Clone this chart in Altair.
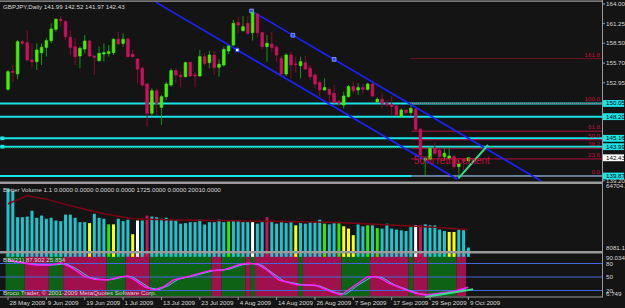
import altair as alt
import pandas as pd

# ---------------- data ----------------
opens = [152.03, 154.55, 154.18, 158.70, 158.58, 156.15, 155.91, 157.17, 157.92, 158.86,
         160.45, 161.85, 161.52, 159.33, 158.02, 156.71, 157.69, 158.81, 156.71, 156.05,
         156.99, 157.08, 157.17, 159.05, 158.48, 159.09, 156.94, 156.29, 154.98, 152.78,
         148.67, 151.84, 149.51, 151.00, 152.64, 154.65, 154.00, 153.81, 155.82, 154.04,
         153.90, 156.61, 155.77, 156.85, 155.12, 155.44, 157.41, 158.25, 161.38, 160.26,
         161.29, 159.98, 162.60, 159.98, 158.02, 158.39, 157.92, 156.38, 154.18, 156.85,
         155.60, 155.35, 155.77, 154.98, 154.04, 152.97, 151.94, 152.03, 151.47, 150.30,
         149.83, 151.00, 152.41, 151.94, 152.31, 152.03, 152.78, 150.26, 150.63, 150.07,
         149.90, 149.69, 148.20, 149.13, 148.76, 149.23, 146.42, 142.12, 142.22, 143.76,
         143.52, 142.59, 142.35, 142.59, 141.19, 142.22, 141.99]
highs = [154.74, 155.44, 158.95, 158.95, 160.35, 158.48, 158.48, 158.48, 159.18, 161.29,
         161.99, 162.32, 161.76, 160.35, 159.18, 158.02, 159.65, 158.95, 156.75, 158.02,
         158.48, 158.25, 159.18, 160.12, 159.89, 159.18, 157.55, 156.38, 155.21, 152.87,
         152.17, 152.17, 151.24, 153.10, 154.98, 154.98, 154.51, 155.91, 155.91, 154.51,
         157.55, 157.17, 157.45, 157.45, 156.24, 158.02, 158.25, 161.76, 162.22, 162.32,
         162.32, 163.16, 162.78, 160.12, 159.65, 160.12, 158.25, 156.71, 157.08, 157.31,
         156.61, 156.61, 156.71, 155.44, 154.28, 153.25, 153.57, 152.31, 152.64, 150.63,
         151.71, 152.64, 153.11, 152.87, 152.87, 152.97, 152.87, 150.91, 151.57, 150.54,
         151.10, 149.83, 149.37, 149.20, 149.83, 149.37, 146.56, 142.59, 143.90, 144.55,
         143.76, 143.76, 143.76, 142.82, 142.12, 142.35, 142.52]
lows = [151.84, 153.10, 153.43, 158.25, 155.91, 155.07, 154.74, 155.44, 156.61, 158.48,
        160.12, 160.82, 158.95, 156.85, 155.44, 154.98, 157.08, 156.61, 154.04, 155.91,
        155.91, 156.61, 156.85, 158.25, 158.02, 156.52, 156.52, 152.87, 152.40, 146.80,
        148.20, 148.43, 147.03, 150.54, 152.40, 152.87, 152.31, 153.71, 153.81, 152.31,
        153.81, 155.30, 154.98, 154.04, 153.81, 155.21, 156.99, 158.11, 159.89, 160.12,
        159.75, 158.86, 159.33, 157.64, 155.91, 157.31, 155.91, 153.90, 153.90, 153.57,
        154.37, 153.57, 154.74, 153.34, 152.17, 151.10, 151.85, 150.16, 150.07, 149.69,
        149.37, 150.91, 151.47, 151.24, 151.47, 151.85, 150.91, 150.07, 149.37, 149.51,
        148.43, 148.29, 148.10, 148.60, 148.43, 146.10, 142.59, 140.02, 142.12, 142.82,
        142.35, 142.12, 142.12, 140.95, 139.87, 140.72, 141.97]
closes = [154.51, 154.40, 158.72, 158.50, 156.15, 155.91, 157.55, 157.92, 158.86, 160.49,
          161.85, 161.66, 159.42, 157.92, 156.61, 157.78, 158.81, 156.71, 156.52, 157.08,
          157.17, 157.31, 159.05, 158.39, 159.05, 156.61, 156.61, 154.88, 152.64, 148.67,
          151.84, 150.07, 151.00, 152.78, 154.65, 154.04, 153.80, 155.77, 153.90, 153.90,
          156.61, 155.68, 156.85, 155.07, 155.54, 157.64, 158.11, 161.29, 161.05, 160.82,
          159.89, 162.78, 159.98, 158.02, 158.48, 157.88, 156.85, 154.18, 156.85, 155.44,
          155.50, 155.91, 154.88, 153.81, 152.78, 151.94, 152.27, 151.33, 150.16, 150.10,
          151.10, 152.41, 151.85, 152.27, 152.03, 152.78, 151.10, 150.63, 150.07, 149.90,
          149.60, 148.43, 149.13, 148.76, 149.37, 146.42, 142.82, 142.35, 143.76, 143.06,
          142.59, 143.06, 142.68, 141.19, 141.56, 141.89, 142.43]

volumes = [62600, 60200, 36200, 36200, 36800, 42200, 35700, 37700, 34800, 35700,
           33200, 32600, 38600, 38600, 35700, 31700, 31700, 30800, 39300, 35700,
           34800, 29700, 29700, 34800, 32600, 33900, 20700, 33200, 33200, 37700,
           36800, 36200, 34800, 35700, 33900, 33200, 30300, 30800, 31700, 31700,
           33900, 29500, 31700, 31700, 33900, 31700, 32600, 33200, 32600, 31700,
           31700, 31700, 30300, 31700, 36200, 31700, 30300, 31700, 30800, 31700,
           28800, 30800, 30300, 31700, 31700, 33900, 30300, 29700, 30800, 30800,
           27900, 25800, 19800, 29700, 27900, 28800, 28800, 26300, 25800, 30300,
           25800, 24900, 24300, 23600, 27200, 28800, 28800, 29700, 28800, 28800,
           24900, 23600, 22700, 22700, 24900, 24300, 8500]
vol_kind = ["c", "c", "c", "c", "c", "c", "c", "c", "c", "c",
            "c", "c", "c", "c", "c", "c", "c", "y", "c", "c",
            "c", "g", "y", "c", "c", "c", "y", "w", "c", "r",
            "c", "c", "c", "c", "c", "c", "c", "c", "c", "c",
            "c", "c", "c", "c", "c", "c", "g", "c", "c", "c",
            "c", "w", "c", "c", "r", "c", "c", "c", "c", "c",
            "y", "c", "c", "c", "c", "c", "g", "c", "c", "g",
            "y", "y", "y", "c", "c", "g", "c", "g", "c", "c",
            "c", "c", "c", "c", "c", "w", "r", "c", "c", "c",
            "c", "c", "y", "y", "c", "c", "c"]
vol_ma_bar = [0, 4, 8, 13, 20, 26, 33, 42, 54, 67, 71, 81, 88, 96]
vol_ma_val = [48500, 55700, 52700, 46700, 39300, 34800, 33900, 33200, 32600, 31700, 30800, 28800, 27200, 24900]

ind_bar = [0, 3.5, 6, 9, 11, 13, 16, 18, 21, 23.5, 25, 26.5, 28.5, 30.5, 32.5, 34.5, 37.5, 42, 45,
           48, 50, 52, 54, 56.5, 60.5, 64, 67.5, 69.5, 72, 75, 77, 79.5, 83, 85, 87, 90, 92.5, 94.5, 96]
ind_main = [87.8, 80.4, 76.7, 76.7, 81.8, 72.9, 50.7, 44.9, 43.3, 50.7, 52.2, 43.3, 28.4, 21.1, 28.4,
            43.3, 50.7, 64.0, 65.6, 76.7, 80.4, 78.9, 65.6, 43.3, 32.2, 32.2, 17.3, 10.0, 28.4, 50.7,
            50.7, 36.0, 21.1, 13.8, 10.0, 13.8, 17.3, 22.7, 27.1]
ind_sig_bar = [0, 4.5, 7, 10, 12, 14, 17, 19.5, 22, 24.5, 26, 27.5, 29.5, 31.5, 33.5, 35.5, 38.5, 43, 46,
               49, 51, 53, 55, 57.5, 61.5, 65, 68.5, 70.5, 73, 76, 78, 80.5, 84, 86, 88, 91, 93.5, 95.5]
ind_sig = [86.0, 80.0, 77.5, 77.0, 80.0, 70.0, 49.0, 44.0, 45.0, 51.0, 50.0, 40.0, 26.0, 22.0, 31.0,
           45.0, 52.0, 64.5, 67.0, 77.5, 80.0, 76.0, 60.0, 41.0, 32.5, 30.0, 15.0, 12.0, 32.0, 51.0,
           49.0, 33.0, 19.0, 12.5, 10.5, 14.5, 18.0, 24.0]
band_start = [0, 4, 9, 12, 21, 25, 30, 43, 45, 50, 51, 52, 61, 62, 70, 76, 84, 85, 88, 94]
band_end = [3, 8, 11, 20, 24, 29, 42, 44, 49, 50, 51, 60, 61, 69, 75, 83, 84, 87, 93, 95]
band_kind = ["g", "r", "g", "r", "g", "r", "g", "r", "g", "r", "g", "r", "g", "r", "g", "r", "g", "r", "g", "r"]
ind_levels = [80, 50, 20]

cyan_levels = [150.05, 148.20, 145.16, 143.99, 139.87]
white_level = [142.43]
price_ticks = ["164.00", "161.25", "158.50", "155.70", "152.95", "139.20"]
fib_names = ["161.8", "100.0", "61.8", "50.0", "38.2", "23.6", "0.0"]
fib_prices = [156.34, 150.05, 146.16, 144.96, 143.76, 142.27, 139.87]
fib_dotted = [True, True, False, False, False, False, False]
fib_from_bar = 84.1

chan_line = ["upper", "upper", "lower", "lower"]
chan_bar = [50.8, 111.2, 30.8, 93.7]
chan_price = [163.02, 139.16, 164.27, 139.42]
chan_mark_bar = [50.8, 59.4, 68.0]
chan_mark_price = [163.02, 159.62, 156.23]
chan_mark2_bar = [47.8]
chan_mark2_price = [157.55]
trend_bar = [93.9, 100.1]
trend_price = [139.55, 144.22]
ind_trend_bar = [87, 97]
ind_trend_val = [5.5, 22.7]

date_bar = [0, 8, 16, 24, 32, 40, 48, 56, 64, 72, 80, 88, 96]
date_lab = ["28 May 2009", "9 Jun 2009", "19 Jun 2009", "1 Jul 2009", "13 Jul 2009", "23 Jul 2009",
            "4 Aug 2009", "14 Aug 2009", "26 Aug 2009", "7 Sep 2009", "17 Sep 2009", "29 Sep 2009",
            "9 Oct 2009"]

vol_ticks = ["64704.15", "8081.15"]
ind_tick_labels = ["80", "50", "20"]

# ---------------- style ----------------
BG = "#141414"
FONT = "Liberation Sans"
FS = 6.2
TXT = "#d8d8d8"
GRAY = "#9a9a9a"
CYAN = "#19e4ea"
UP_BODY = "#44f000"
DN_BODY = "#cc1060"
UP_WICK = "#109a10"
DN_WICK = "#8a0c30"
CRIMSON = "#c0103c"

X = alt.Scale(domain=[0, 96], range=[3, 473.4], zero=False, nice=False)
PY = alt.Scale(domain=[139.3, 164.0], range=[180.1, 4], zero=False, nice=False)
VY = alt.Scale(domain=[8081.15, 64704.15], range=[248, 186], zero=False, nice=False)
IY = alt.Scale(domain=[20, 80], range=[290.5, 263.5], zero=False, nice=False)


def xq(f):
    return alt.X(f, type="quantitative", scale=X, axis=None)


def yq(f, s):
    return alt.Y(f, type="quantitative", scale=s, axis=None)


candles = pd.DataFrame({"i": list(range(len(opens))), "o": opens, "h": highs, "l": lows, "c": closes})
candles["dir"] = ["up" if c >= o else "down" for o, c in zip(opens, closes)]
vol = pd.DataFrame({"i": list(range(len(volumes))), "v": volumes, "k": vol_kind})
vma = pd.DataFrame({"i": vol_ma_bar, "v": vol_ma_val})
ind1 = pd.DataFrame({"i": ind_bar, "v": ind_main})
ind2 = pd.DataFrame({"i": ind_sig_bar, "v": ind_sig})
bands = pd.DataFrame({"s": band_start, "e": band_end, "k": band_kind})
bands["x1"] = bands["s"] - 0.5
bands["x2"] = bands["e"] + 0.5

layers = []

# indicator background bands
band_cols = {"g": "#0d6216", "r": "#a0104c"}
for k, col in band_cols.items():
    layers.append(alt.Chart(bands).transform_filter(alt.datum.k == k).mark_rect(color=col).encode(
        x=xq("x1"), x2="x2", y=alt.value(254), y2=alt.value(296)))

# indicator level lines
layers.append(alt.Chart(pd.DataFrame({"v": ind_levels})).mark_rule(color="#4466dd", strokeWidth=1).encode(
    x=alt.value(0), x2=alt.value(603), y=yq("v", IY)))
layers.append(alt.Chart(ind2).mark_line(color="#3cc8e0", strokeWidth=1).encode(x=xq("i"), y=yq("v", IY)))
layers.append(alt.Chart(ind1).mark_line(color="#ff20ff", strokeWidth=1.5).encode(x=xq("i"), y=yq("v", IY)))
layers.append(alt.Chart(pd.DataFrame({"i": ind_trend_bar, "v": ind_trend_val})).mark_line(
    color="#33e08a", strokeWidth=2).encode(x=xq("i"), y=yq("v", IY)))

# price level lines
layers.append(alt.Chart(pd.DataFrame({"p": cyan_levels})).mark_rule(color=CYAN, strokeWidth=2).encode(
    x=alt.value(0), x2=alt.value(602), y=yq("p", PY)))
layers.append(alt.Chart(pd.DataFrame({"p": [143.82]})).mark_rule(
    color="#1f9a3a", strokeWidth=1, strokeDash=[1, 1]).encode(x=alt.value(0), x2=alt.value(602), y=yq("p", PY)))
layers.append(alt.Chart(pd.DataFrame({"p": [cyan_levels[2], cyan_levels[3]]})).mark_square(
    color=CYAN, size=14, opacity=1).encode(x=alt.value(2.5), y=yq("p", PY)))

fib = pd.DataFrame({"p": fib_prices, "n": fib_names, "d": fib_dotted, "s": [fib_from_bar] * len(fib_prices)})
layers.append(alt.Chart(fib).transform_filter(alt.datum.d).mark_rule(
    color="#d0102a", strokeWidth=1, strokeDash=[1, 1]).encode(x=xq("s"), x2=alt.value(602), y=yq("p", PY)))
layers.append(alt.Chart(fib).transform_filter(~alt.datum.d).mark_rule(
    color="#b0103e", strokeWidth=1).encode(x=xq("s"), x2=alt.value(602), y=yq("p", PY)))
layers.append(alt.Chart(fib).mark_text(
    color=CRIMSON, font=FONT, fontSize=FS, align="right", baseline="bottom", dy=-1).encode(
    x=alt.value(600), y=yq("p", PY), text="n:N"))

# channel
chan = pd.DataFrame({"line": chan_line, "i": chan_bar, "p": chan_price})
layers.append(alt.Chart(chan).mark_line(color="#1c22ff", strokeWidth=1.6).encode(
    x=xq("i"), y=yq("p", PY), detail="line:N"))
layers.append(alt.Chart(pd.DataFrame({"i": chan_mark_bar, "p": chan_mark_price})).mark_square(
    color="#2244ff", stroke="#99aaff", strokeWidth=0.8, size=14, opacity=1).encode(x=xq("i"), y=yq("p", PY)))
layers.append(alt.Chart(pd.DataFrame({"i": chan_mark2_bar, "p": chan_mark2_price})).mark_square(
    color="#ffffff", stroke="#2244ff", strokeWidth=1, size=12, opacity=1).encode(x=xq("i"), y=yq("p", PY)))

# candles
for d, wick, body in [("up", UP_WICK, UP_BODY), ("down", DN_WICK, DN_BODY)]:
    layers.append(alt.Chart(candles).transform_filter(alt.datum.dir == d).mark_rule(
        color=wick, strokeWidth=1).encode(x=xq("i"), y=yq("l", PY), y2="h"))
for d, body in [("up", UP_BODY), ("down", DN_BODY)]:
    layers.append(alt.Chart(candles).transform_filter(alt.datum.dir == d).mark_bar(
        color=body, stroke=body, strokeWidth=0.7, size=2.6).encode(x=xq("i"), y=yq("o", PY), y2="c"))

# green trend line on price
layers.append(alt.Chart(pd.DataFrame({"i": trend_bar, "p": trend_price})).mark_line(
    color="#3ad886", strokeWidth=2).encode(x=xq("i"), y=yq("p", PY)))
layers.append(alt.Chart(pd.DataFrame({"i": [84.6], "p": [141.95], "t": ["50% retracement"]})).mark_text(
    color=CRIMSON, font=FONT, fontSize=10, align="left", baseline="middle").encode(
    x=xq("i"), y=yq("p", PY), text="t:N"))

# volume
vol_cols = {"c": "#1cc6d0", "y": "#ffff00", "g": "#22ee00", "w": "#ffffff", "r": "#d01058"}
for k, col in vol_cols.items():
    layers.append(alt.Chart(vol).transform_filter(alt.datum.k == k).mark_bar(color=col, size=3).encode(
        x=xq("i"), y=yq("v", VY), y2=alt.value(248.5)))
layers.append(alt.Chart(vma).mark_line(color="#7c0012", strokeWidth=1.5).encode(x=xq("i"), y=yq("v", VY)))

# frame / separators
frame = [(0.5, 1.7), (181.5, 184.0), (251.0, 253.5), (296.4, 297.6)]
for y1, y2 in frame:
    layers.append(alt.Chart(pd.DataFrame({"a": [0]})).mark_rect(color=GRAY).encode(
        x=alt.value(0), x2=alt.value(603), y=alt.value(y1), y2=alt.value(y2)))
layers.append(alt.Chart(pd.DataFrame({"a": [0]})).mark_rule(color=GRAY, strokeWidth=1).encode(
    x=alt.value(602.5), y=alt.value(0), y2=alt.value(297)))

# right axis: price
pt = pd.DataFrame({"lab": price_ticks})
pt["p"] = pt["lab"].astype(float)
layers.append(alt.Chart(pt).mark_rule(color=GRAY).encode(x=alt.value(602), x2=alt.value(605), y=yq("p", PY)))
layers.append(alt.Chart(pt).mark_text(color=TXT, font=FONT, fontSize=FS, align="left", baseline="middle").encode(
    x=alt.value(606), y=yq("p", PY), text="lab:N"))

boxes = pd.DataFrame({"p": cyan_levels + white_level,
                      "k": ["c"] * len(cyan_levels) + ["w"] * len(white_level)})
boxes["lab"] = boxes["p"].map(lambda v: f"{v:.2f}")
for k, col in [("c", CYAN), ("w", "#ffffff")]:
    layers.append(alt.Chart(boxes).transform_filter(alt.datum.k == k).transform_calculate(
        lo="datum.p - 0.48", hi="datum.p + 0.48").mark_rect(color=col).encode(
        x=alt.value(603), x2=alt.value(624), y=yq("lo", PY), y2="hi:Q"))
layers.append(alt.Chart(boxes).mark_text(color="#000000", font=FONT, fontSize=FS, align="left",
                                         baseline="middle").encode(x=alt.value(606), y=yq("p", PY), text="lab:N"))

# right axis: volume
vt = pd.DataFrame({"lab": vol_ticks})
vt["v"] = vt["lab"].astype(float)
layers.append(alt.Chart(vt).mark_text(color=TXT, font=FONT, fontSize=FS, align="left", baseline="middle").encode(
    x=alt.value(606), y=yq("v", VY), text="lab:N"))

# right axis: indicator
it = pd.DataFrame({"lab": ind_tick_labels})
it["v"] = it["lab"].astype(float)
layers.append(alt.Chart(it).mark_text(color=TXT, font=FONT, fontSize=FS, align="left", baseline="middle").encode(
    x=alt.value(606), y=yq("v", IY), text="lab:N"))
layers.append(alt.Chart(pd.DataFrame({"t": ["90.034"]})).mark_text(
    color=TXT, font=FONT, fontSize=FS, align="left", baseline="middle").encode(
    x=alt.value(606), y=alt.value(257.7), text="t:N"))
layers.append(alt.Chart(pd.DataFrame({"t": ["6.749"]})).mark_text(
    color=TXT, font=FONT, fontSize=FS, align="left", baseline="middle").encode(
    x=alt.value(606), y=alt.value(293.8), text="t:N"))

# date axis
dd = pd.DataFrame({"i": date_bar, "lab": date_lab})
layers.append(alt.Chart(dd).mark_rule(color=GRAY).encode(x=xq("i"), y=alt.value(297), y2=alt.value(300)))
layers.append(alt.Chart(dd).mark_text(color=TXT, font=FONT, fontSize=FS, align="left", baseline="middle",
                                      dx=1.5).encode(x=xq("i"), y=alt.value(302.5), text="lab:N"))

# headers
headers = [("GBPJPY,Daily  141.99 142.52 141.97 142.43", 6.8),
           ("Better Volume 1.1 0.0000 0.0000 0.0000 0.0000 1725.0000 0.0000 20010.0000", 190),
           ("BBI(21) 87.902 25.854", 259.6),
           ("Broco Trader, \u00a9 2001-2009 MetaQuotes Software Corp.", 293)]
for t, yy in headers:
    layers.append(alt.Chart(pd.DataFrame({"t": [t]})).mark_text(
        color=TXT, font=FONT, fontSize=FS, align="left", baseline="middle").encode(
        x=alt.value(3), y=alt.value(yy), text="t:N"))

chart = alt.layer(*layers).resolve_scale(y="independent").properties(
    width=625, height=308, autosize=alt.AutoSizeParams(type="none"), padding=0, background=BG
).configure_view(stroke=None, fill=BG)

chart.save("out.html", embed_options={"renderer": "svg", "actions": False})
